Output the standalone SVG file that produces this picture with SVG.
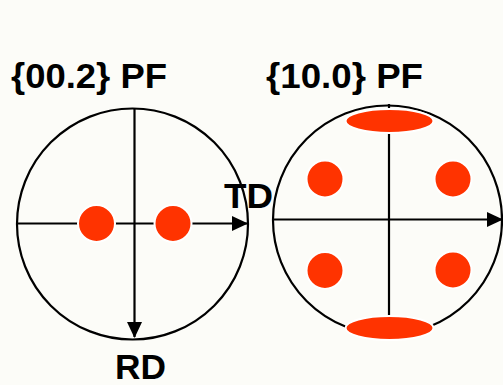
<svg xmlns="http://www.w3.org/2000/svg" width="503" height="385" viewBox="0 0 503 385">
  <defs>
    <marker id="arrow" viewBox="0 0 16 16" refX="15" refY="8" markerWidth="16" markerHeight="16" markerUnits="userSpaceOnUse" orient="auto">
      <path d="M0,0.5 L16,8 L0,15.5 Z" fill="#000"/>
    </marker>
  </defs>
  <style>
    .ring { fill: none; stroke: #000; stroke-width: 2.2; }
    .axis { fill: none; stroke: #000; stroke-width: 2.2; }
    .spot { fill: #FF3300; stroke: #FFFFFF; stroke-width: 2; }
    .lbl { font-family: "Liberation Sans", Arial, sans-serif; font-weight: bold; font-size: 34.5px; fill: #000; }
  </style>
  <rect width="503" height="385" fill="#FCFCF8"/>

  <!-- {00.2} pole figure -->
  <g id="pf-0002">
    <circle class="ring" cx="132.5" cy="224" r="115.5"/>
    <g id="pf-0002-axes">
      <line class="axis" x1="17" y1="223.5" x2="247" y2="223.5" marker-end="url(#arrow)"/>
      <line class="axis" x1="134.5" y1="109" x2="134.5" y2="337" marker-end="url(#arrow)"/>
    </g>
    <circle class="spot" cx="96.5" cy="223.5" r="18.5"/>
    <circle class="spot" cx="173" cy="223.5" r="18.5"/>
    <text class="lbl" x="11" y="87.5" textLength="156" lengthAdjust="spacingAndGlyphs">{00.2} PF</text>
  </g>

  <!-- {10.0} pole figure -->
  <g id="pf-1000">
    <circle class="ring" cx="387.5" cy="220" r="114.5"/>
    <g id="pf-1000-axes">
      <line class="axis" x1="273" y1="219.5" x2="502" y2="219.5" marker-end="url(#arrow)"/>
      <line class="axis" x1="389" y1="104" x2="389" y2="335"/>
    </g>
    <ellipse class="spot" cx="389.5" cy="121" rx="44" ry="12"/>
    <ellipse class="spot" cx="389.5" cy="328" rx="44" ry="12"/>
    <circle class="spot" cx="325" cy="179" r="18.5"/>
    <circle class="spot" cx="453" cy="179" r="18.5"/>
    <circle class="spot" cx="325" cy="270.5" r="18.5"/>
    <circle class="spot" cx="453" cy="270" r="18.5"/>
    <text class="lbl" x="266" y="87.5" textLength="157" lengthAdjust="spacingAndGlyphs">{10.0} PF</text>
  </g>

  <!-- sample direction labels -->
  <g id="label-td">
    <text class="lbl" x="224" y="208" textLength="49" lengthAdjust="spacingAndGlyphs">TD</text>
  </g>
  <g id="label-rd">
    <text class="lbl" x="115" y="378.5" textLength="51" lengthAdjust="spacingAndGlyphs">RD</text>
  </g>
</svg>
